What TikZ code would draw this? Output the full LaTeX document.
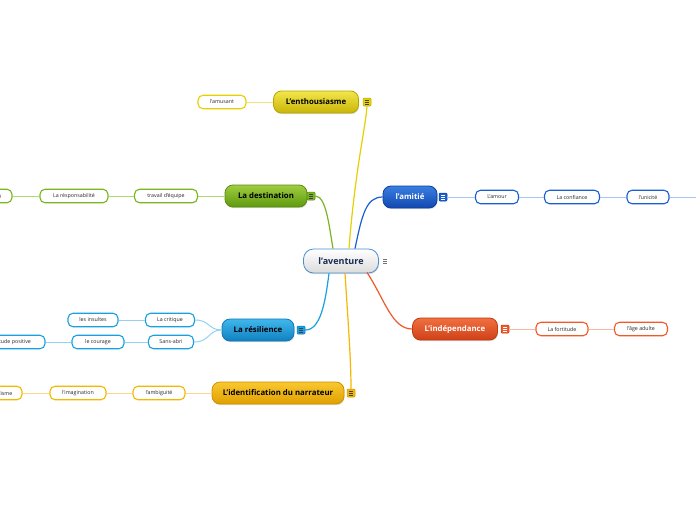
\documentclass[tikz,border=0pt]{standalone}
\usepackage{fontspec}
\setmainfont{Open Sans}
\usetikzlibrary{shadows,calc}
\definecolor{yelT}{HTML}{F2E64A}\definecolor{yelB}{HTML}{C9B508}\definecolor{yelD}{HTML}{B8A500}\definecolor{yelC}{HTML}{E6D000}\definecolor{yelL}{HTML}{F0E27A}
\definecolor{grnT}{HTML}{A0CC40}\definecolor{grnB}{HTML}{5E9A0E}\definecolor{grnD}{HTML}{5A8C10}\definecolor{grnC}{HTML}{7AB420}\definecolor{grnL}{HTML}{B0D870}
\definecolor{bluT}{HTML}{3A7EE0}\definecolor{bluB}{HTML}{1048B0}\definecolor{bluD}{HTML}{0D3F9E}\definecolor{bluC}{HTML}{1A5FD0}\definecolor{bluL}{HTML}{A8C4F0}
\definecolor{orgT}{HTML}{F07040}\definecolor{orgB}{HTML}{D04018}\definecolor{orgD}{HTML}{C03A10}\definecolor{orgC}{HTML}{F05A28}\definecolor{orgL}{HTML}{F8B8A4}
\definecolor{lblT}{HTML}{40B8EC}\definecolor{lblB}{HTML}{1080C0}\definecolor{lblD}{HTML}{0F78B8}\definecolor{lblC}{HTML}{18A0E0}\definecolor{lblL}{HTML}{94D2F2}
\definecolor{golT}{HTML}{F8C830}\definecolor{golB}{HTML}{E0A000}\definecolor{golD}{HTML}{D09000}\definecolor{golC}{HTML}{F5B800}\definecolor{golL}{HTML}{F8D88A}
\definecolor{cenB}{HTML}{4A90D0}\definecolor{cenT}{HTML}{1A2A50}
\begin{document}
\begin{tikzpicture}[x=1pt,y=-1pt,
  main/.style={rounded corners=8pt, minimum height=22pt, inner sep=0pt, line width=0.8pt,
    font=\fontsize{7.8}{10}\selectfont\bfseries, drop shadow={opacity=0.25,shadow xshift=0.6pt,shadow yshift=-1.2pt}},
  kid/.style={draw, fill=white, rounded corners=5pt, minimum height=13.5pt, inner sep=0pt, line width=1.1pt,
    text=black!85, font=\fontsize{5.3}{6}\selectfont},
  iconbox/.style={minimum size=8pt, inner sep=0pt, rounded corners=1pt, line width=0.5pt,
    path picture={\foreach \dy in {-2,0,2} \draw[line width=0.6pt, black!75] ([xshift=-2.2pt,yshift=\dy pt]path picture bounding box.center) -- ++(4.4pt,0);}},
  conn/.style={line width=1.2pt},
  sub/.style={line width=1pt}]
\clip (0,0) rectangle (696,520);
\fill[white] (0,0) rectangle (696,520);

% central
\node[main, minimum width=75pt, minimum height=24pt, rounded corners=10pt, draw=cenB, top color=white, bottom color=black!14, text=cenT, font=\fontsize{9}{11}\selectfont\bfseries] (cen) at (341,261) {l'aventure};
\node[iconbox, fill=white, draw=none, path picture={\foreach \dy in {-1.8,0,1.8} \draw[line width=0.6pt, black!55] ([xshift=-2pt,yshift=\dy pt]path picture bounding box.center) -- ++(4pt,0);}] (cen-i) at (385,261) {};

% main topics
\node[main, minimum width=85pt, draw=yelD, top color=yelT, bottom color=yelB, text=black] (ent) at (316,102) {L'enthousiasme};
\node[iconbox, fill=yelC, draw=yelD] (ent-i) at (367,102) {};
\node[main, minimum width=82pt, draw=grnD, top color=grnT, bottom color=grnB, text=black] (des) at (266,196) {La destination};
\node[iconbox, fill=grnC, draw=grnD] (des-i) at (311,196) {};
\node[main, minimum width=54pt, draw=bluD, top color=bluT, bottom color=bluB, text=white] (ami) at (410,197) {l'amitié};
\node[iconbox, fill=bluC, draw=bluD, path picture={\foreach \dy in {-2,0,2} \draw[line width=0.6pt, white] ([xshift=-2.2pt,yshift=\dy pt]path picture bounding box.center) -- ++(4.4pt,0);}] (ami-i) at (443,197) {};
\node[main, minimum width=85pt, draw=orgD, top color=orgT, bottom color=orgB, text=white] (ind) at (455,329) {L'indépendance};
\node[iconbox, fill=orgC, draw=orgD, path picture={\foreach \dy in {-2,0,2} \draw[line width=0.6pt, white] ([xshift=-2.2pt,yshift=\dy pt]path picture bounding box.center) -- ++(4.4pt,0);}] (ind-i) at (505,329) {};
\node[main, minimum width=72pt, draw=lblD, top color=lblT, bottom color=lblB, text=black] (res) at (258,330) {La résilience};
\node[iconbox, fill=lblC, draw=lblD] (res-i) at (301,330) {};
\node[main, minimum width=132pt, draw=golD, top color=golT, bottom color=golB, text=black] (ide) at (278,393) {L'identification du narrateur};
\node[iconbox, fill=golC, draw=golD] (ide-i) at (351,393) {};

% connectors from centre
\draw[conn, yelC] ($(cen.north)+(8,0)$) .. controls (355,170) and (366,125) .. (ent-i.south);
\draw[conn, grnC] (des-i.east) .. controls (326,196) and (329,225) .. ($(cen.north)+(-8,0)$);
\draw[conn, bluC] ($(cen.north)+(14,0)$) .. controls (362,215) and (366,197) .. (ami.west);
\draw[conn, lblC] ($(cen.south)+(-12,0)$) .. controls (325,305) and (320,330) .. (res-i.east);
\draw[conn, golC] ($(cen.south)+(4,0)$) .. controls (348,320) and (351,360) .. (ide-i.north);
\draw[conn, orgC] ($(cen.south)+(26,-1)$) .. controls (385,300) and (392,329) .. (ind.west);

% enthousiasme children
\node[kid, draw=yelC, minimum width=48pt] (amu) at (222,102) {l'amusant};
\draw[sub, yelL] (ent.west) -- (amu.east);

% destination children
\node[kid, draw=grnC, minimum width=63pt] (tra) at (166,196) {travail d'équipe};
\node[kid, draw=grnC, minimum width=68pt] (rsp) at (74,196) {La résponsabilité};
\node[kid, draw=grnC, minimum width=50pt] (sol) at (-13,196) {la solidarité};
\draw[sub, grnL] (des.west) -- (tra.east);
\draw[sub, grnL] (tra.west) -- (rsp.east);
\draw[sub, grnL] (rsp.west) -- (sol.east);

% amitie children
\node[kid, draw=bluC, minimum width=43pt] (amo) at (497,197) {L'amour};
\node[kid, draw=bluC, minimum width=55pt] (con) at (572,197) {La confiance};
\node[kid, draw=bluC, minimum width=42pt] (uni) at (648,197) {l'unicité};
\coordinate (far) at (700,197);
\draw[sub, bluL] (ami-i.east) -- (amo.west);
\draw[sub, bluL] (amo.east) -- (con.west);
\draw[sub, bluL] (con.east) -- (uni.west);
\draw[sub, bluL] (uni.east) -- (far);

% independance children
\node[kid, draw=orgC, minimum width=52pt] (for) at (562,329) {La fortitude};
\node[kid, draw=orgC, minimum width=53pt] (age) at (641,329) {l'âge adulte};
\draw[sub, orgL] (ind-i.east) -- (for.west);
\draw[sub, orgL] (for.east) -- (age.west);

% resilience children
\node[kid, draw=lblC, minimum width=49pt] (cri) at (170,320) {La critique};
\node[kid, draw=lblC, minimum width=45pt] (san) at (171,342) {Sans-abri};
\node[kid, draw=lblC, minimum width=50pt] (ins) at (93,320) {les insultes};
\node[kid, draw=lblC, minimum width=52pt] (cou) at (98,342) {le courage};
\node[kid, draw=lblC, minimum width=70pt] (att) at (10,342) {l'attitude positive};
\draw[sub, lblL] (res.west) .. controls (208,330) and (210,320) .. (cri.east);
\draw[sub, lblL] (res.west) .. controls (208,330) and (210,342) .. (san.east);
\draw[sub, lblL] (cri.west) -- (ins.east);
\draw[sub, lblL] (san.west) -- (cou.east);
\draw[sub, lblL] (cou.west) -- (att.east);

% identification children
\node[kid, draw=golC, minimum width=52pt] (amb) at (159,393) {l'ambiguité};
\node[kid, draw=golC, minimum width=56pt] (ima) at (78,393) {l'imagination};
\node[kid, draw=golC, minimum width=46pt] (rea) at (-1,393) {le réalisme};
\draw[sub, golL] (ide.west) -- (amb.east);
\draw[sub, golL] (amb.west) -- (ima.east);
\draw[sub, golL] (ima.west) -- (rea.east);
\end{tikzpicture}
\end{document}
